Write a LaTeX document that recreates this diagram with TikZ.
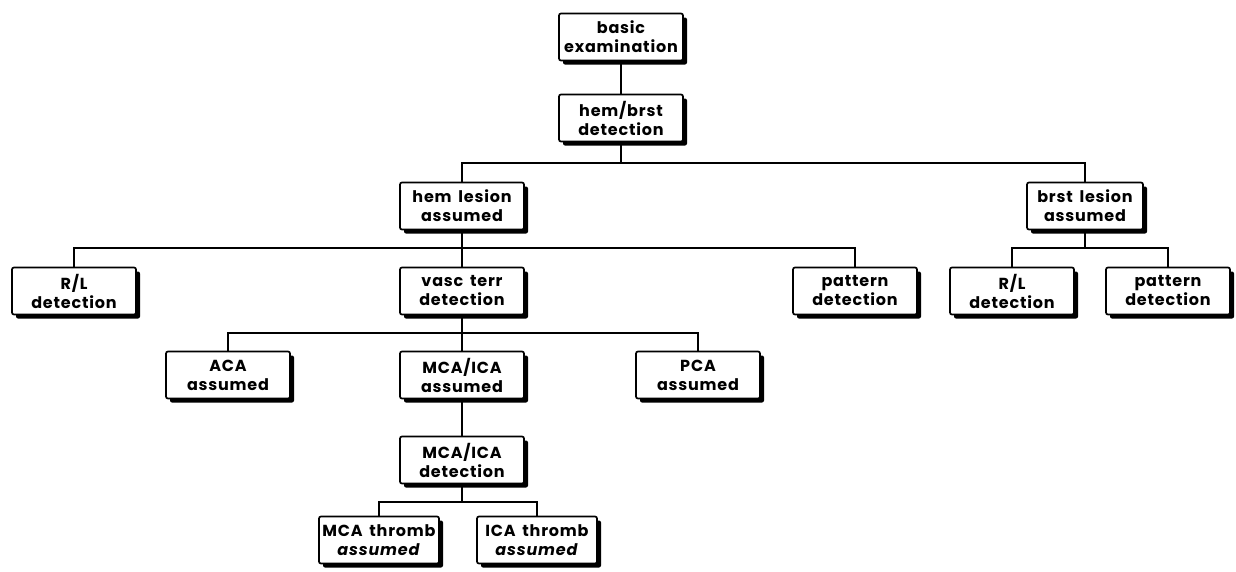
\documentclass[tikz,border=0pt]{standalone}
\usepackage{fontspec}
\setmainfont{Poppins}[LetterSpace=5,WordSpace=1.6]
\usetikzlibrary{shadows}
\begin{document}
\begin{tikzpicture}[x=1pt,y=-1pt]
\tikzstyle{every node}+=[font=\fontsize{16}{19}\selectfont\bfseries]
\tikzstyle{box}=[draw=black,line width=1.7pt,fill=white,rounded corners=2pt,align=center,minimum width=124pt,minimum height=47pt,inner sep=0pt,drop shadow={shadow xshift=4pt,shadow yshift=-4pt,fill=black,opacity=1}]
\tikzstyle{link}=[black,line width=1.4pt]
\useasboundingbox (0,0) rectangle (1236,571);
\node[box] (basic) at (621,37) {basic\\examination};
\node[box] (hemdet) at (621,118) {hem/brst\\detection};
\node[box] (hemles) at (462,206) {hem lesion\\assumed};
\node[box,minimum width=116pt] (brstles) at (1085,206) {brst lesion\\assumed};
\node[box] (rlhem) at (74,291) {R/L\\detection};
\node[box] (vasc) at (462,291) {vasc terr\\detection};
\node[box] (pathem) at (855,291) {pattern\\detection};
\node[box] (rlbrst) at (1012,291) {R/L\\detection};
\node[box] (patbrst) at (1168,291) {pattern\\detection};
\node[box] (aca) at (228,375) {ACA\\assumed};
\node[box] (mcaica) at (462,375) {MCA/ICA\\assumed};
\node[box] (pca) at (698,375) {PCA\\assumed};
\node[box] (mcadet) at (462,460) {MCA/ICA\\detection};
\node[box,minimum width=120pt] (mcathr) at (379,540) {MCA thromb\\\textit{assumed}};
\node[box,minimum width=120pt] (icathr) at (537,540) {ICA thromb\\\textit{assumed}};
\draw[link] (basic) -- (hemdet);
\draw[link] (hemdet.south) -- (hemdet |- 0,163);
\draw[link] (hemles.north) |- (hemdet |- 0,163) -| (brstles.north);
\draw[link] (hemles.south) -- (vasc.north);
\draw[link] (rlhem.north) |- (hemles |- 0,248) -| (pathem.north);
\draw[link] (brstles.south) -- (brstles |- 0,248);
\draw[link] (rlbrst.north) |- (brstles |- 0,248) -| (patbrst.north);
\draw[link] (vasc.south) -- (mcaica.north);
\draw[link] (aca.north) |- (vasc |- 0,333) -| (pca.north);
\draw[link] (mcaica.south) -- (mcadet.north);
\draw[link] (mcadet.south) -- (mcadet |- 0,502);
\draw[link] (mcathr.north) |- (mcadet |- 0,502) -| (icathr.north);
\end{tikzpicture}
\end{document}
